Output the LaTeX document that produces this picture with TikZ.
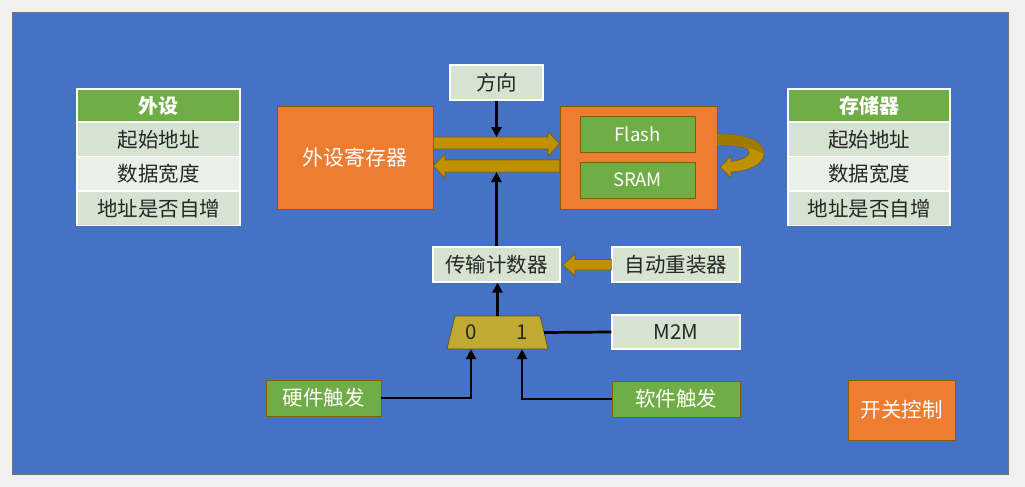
\documentclass[tikz,border=0pt]{standalone}
\usepackage{fontspec}
\setmainfont{Noto Sans CJK SC}
\usetikzlibrary{arrows.meta,calc,shapes.geometric}
\definecolor{bgc}{RGB}{240,240,240}
\definecolor{blu}{RGB}{68,114,196}
\definecolor{org}{RGB}{237,125,49}
\definecolor{grn}{RGB}{112,173,71}
\definecolor{lgA}{RGB}{214,227,208}
\definecolor{lgB}{RGB}{234,240,232}
\definecolor{gold}{RGB}{191,144,0}
\definecolor{dgold}{RGB}{158,122,0}
\definecolor{brn}{RGB}{127,96,0}
\definecolor{muxc}{RGB}{192,170,50}
\definecolor{txt}{RGB}{38,38,38}
\tikzset{
  base/.style={inner sep=0pt, font=\fontsize{20.5}{22}\selectfont},
  lbox/.style={base, draw=white, line width=1.3pt, fill=lgA, text=txt},
  lboxB/.style={lbox, fill=lgB},
  hbox/.style={base, draw=white, line width=1.3pt, fill=grn, text=white, font=\fontsize{20}{22}\selectfont\bfseries},
  gbox/.style={base, draw=brn, line width=0.8pt, fill=grn, text=white},
  obox/.style={base, draw=brn, line width=0.8pt, fill=org, text=white},
  wire/.style={line width=2.7pt, black},
  warrow/.style={wire, -{Triangle[length=10pt,width=10pt]}},
  fat/.style={fill=gold, draw=brn, line width=0.7pt},
}
\begin{document}
\begin{tikzpicture}[x=1pt,y=-1pt]
\useasboundingbox (0,0) rectangle (1025,487);
\fill[bgc] (0,0) rectangle (1025,487);
\filldraw[fill=blu, draw=black!55, line width=0.6pt] (12,12) rectangle (1008,474);

% left table
\node[hbox, minimum width=163, minimum height=33] (lh) at (158.5,105.5) {外设};
\node[lbox, minimum width=163, minimum height=34.5] (l1) at (158.5,139.3) {起始地址};
\node[lboxB, minimum width=163, minimum height=34.5] (l2) at (158.5,173.8) {数据宽度};
\node[lbox, minimum width=163, minimum height=34.5] (l3) at (158.5,208.3) {地址是否自增};

% right table
\node[hbox, minimum width=162, minimum height=33] (rh) at (869,105.5) {存储器};
\node[lbox, minimum width=162, minimum height=34.5] (r1) at (869,139.3) {起始地址};
\node[lboxB, minimum width=162, minimum height=34.5] (r2) at (869,173.8) {数据宽度};
\node[lbox, minimum width=162, minimum height=34.5] (r3) at (869,208.3) {地址是否自增};

% central boxes
\node[lbox, minimum width=93, minimum height=35] (dir) at (496.5,82.5) {方向};
\node[obox, minimum width=156, minimum height=103, font=\fontsize{21}{22}\selectfont] (reg) at (355,157.5) {外设寄存器};
\node[obox, minimum width=157, minimum height=103] (mem) at (638.5,157.5) {};
\node[gbox, minimum width=115, minimum height=36, font=\fontsize{18.5}{20}\selectfont] (flash) at (637.5,134) {Flash};
\node[gbox, minimum width=115, minimum height=36, font=\fontsize{18.5}{20}\selectfont] (sram) at (637.5,180) {SRAM};

\node[lbox, minimum width=127, minimum height=35] (cnt) at (496.5,264.5) {传输计数器};
\node[lbox, minimum width=128, minimum height=35] (rel) at (676,264.5) {自动重装器};
\node[lbox, minimum width=128, minimum height=34] (m2m) at (676,332) {M2M};
\node[gbox, minimum width=115, minimum height=36] (hw) at (323.5,398) {硬件触发};
\node[gbox, minimum width=128, minimum height=36] (sw) at (676,399) {软件触发};
\node[obox, minimum width=107, minimum height=60] (sc) at (901.5,410) {开关控制};

% mux (trapezoid drawn on an invisible anchor node)
\node[inner sep=0pt, minimum width=93, minimum height=33] (mux) at (497.5,332.5) {};
\filldraw[fill=muxc, draw=brn!80!black, line width=0.6pt]
  (455,316) -- (540,316) -- (548,349) -- (447,349) -- cycle;
\node[base, text=txt] (z0) at (471,332.5) {0};
\node[base, text=txt] (z1) at (522,332.5) {1};

% fat arrows between register and memory
\path[fat] (reg.east |- 0,137) -- (548,137) -- (548,132) -- (mem.west |- 0,143.5) -- (548,156) -- (548,149) -- (reg.east |- 0,149) -- cycle;
\path[fat] (mem.west |- 0,160) -- (445,160) -- (445,154) -- (reg.east |- 0,166) -- (445,178) -- (445,172) -- (mem.west |- 0,172) -- cycle;
\coordinate (ratop) at (496.5,137);
\coordinate (labot) at (496.5,172);

% reload arrow
\path[fat] (rel.west |- 0,259.5) -- (575,259.5) -- (575,254) -- (563,265) -- (575,276) -- (575,270) -- (rel.west |- 0,270) -- cycle;

% curved arrow on memory
\path[fat] (mem.east |- 0,134) .. controls (748,134) and (765,142) .. (764,155)
   .. controls (763,165) and (748,171) .. (731,172) -- (731,177.5) -- (720,167) -- (731,156) -- (731,161.5)
   .. controls (746,160) and (753,153) .. (747,149) .. controls (741,146) and (730,145) .. (mem.east |- 0,145) -- cycle;
\path[fill=dgold] (mem.east |- 0,134) .. controls (748,134) and (765,142) .. (764,155)
   .. controls (760,150) and (742,145) .. (mem.east |- 0,145) -- cycle;

% black connectors
\draw[warrow] (dir.south) -- (ratop);
\draw[warrow] (cnt.north) -- (labot);
\draw[warrow] (mux.north) -- (mux.north |- cnt.south);
\draw[wire] (m2m.west) -- (mux.east);
\draw[warrow] (hw.east) -| (z0 |- mux.south);
\draw[warrow] (sw.west) -| (z1 |- mux.south);
\end{tikzpicture}
\end{document}
